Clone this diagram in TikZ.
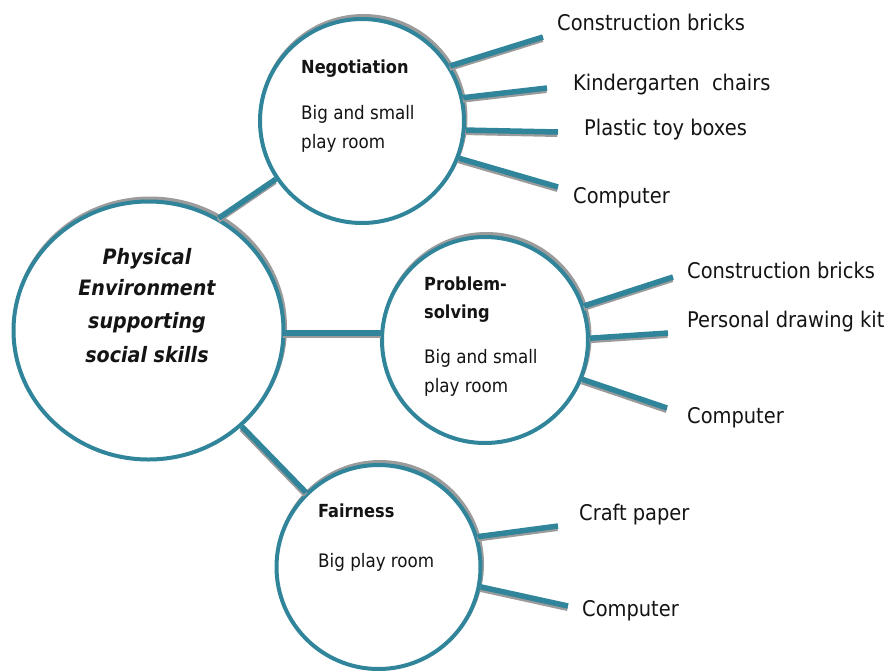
\documentclass[tikz,border=0pt]{standalone}
\usepackage{fontspec}
\setmainfont{DejaVu Sans Condensed}
\usetikzlibrary{shapes.geometric}
\definecolor{tealc}{RGB}{49,133,155}
\definecolor{shadc}{RGB}{155,155,155}
\definecolor{txtc}{RGB}{20,20,20}
\begin{document}
\begin{tikzpicture}[x=1pt,y=-1pt,
  bubble/.style={circle, draw=tealc, line width=4pt, fill=white, inner sep=0pt,
    preaction={draw=shadc, line width=4pt, transform canvas={shift={(1.5pt,3pt)}}}},
  link/.style={draw=tealc, line width=5.5pt,
    preaction={draw=shadc, line width=5pt, transform canvas={shift={(-0.5pt,-2.5pt)}}}},
  item/.style={anchor=base west, inner sep=0pt, text=txtc, font=\fontsize{21.6}{25}\selectfont},
  head/.style={anchor=base west, inner sep=0pt, text=txtc, font=\fontsize{18}{22}\selectfont\bfseries},
  sub/.style={anchor=base west, inner sep=0pt, text=txtc, font=\fontsize{18.6}{22}\selectfont},
  mainline/.style={anchor=base, inner sep=0pt, text=txtc, font=\fontsize{21.2}{24}\selectfont\bfseries\itshape}]
\useasboundingbox (0,0) rectangle (890,670);

% circles
\node[bubble, ellipse, minimum width=270pt, minimum height=258pt] (main) at (148.5,330.5) {};
\node[bubble, minimum size=204pt] (neg) at (362,121) {};
\node[bubble, minimum size=206pt] (ps) at (485,340) {};
\node[bubble, minimum size=204pt] (fair) at (378.5,567) {};

% main text
\node[mainline] (m1) at (147,264) {Physical};
\node[mainline] (m2) at (147,295) {Environment};
\node[mainline] (m3) at (147,328) {supporting};
\node[mainline] (m4) at (147,362) {social skills};

% circle texts
\node[head] (negh) at (301,73) {Negotiation};
\node[sub] (negs1) at (301,119) {Big and small};
\node[sub] (negs2) at (301,148) {play room};

\node[head] (psh1) at (424,290) {Problem-};
\node[head] (psh2) at (424,318) {solving};
\node[sub] (pss1) at (424,363) {Big and small};
\node[sub] (pss2) at (424,392) {play room};

\node[head] (fairh) at (318,517) {Fairness};
\node[sub] (fairs) at (318,567) {Big play room};

% item labels
\node[item] (n1) at (557,30) {Construction bricks};
\node[item] (n2) at (573,90) {Kindergarten\ \ chairs};
\node[item] (n3) at (584,135) {Plastic toy boxes};
\node[item] (n4) at (573,203) {Computer};
\node[item] (p1) at (687,278) {Construction bricks};
\node[item] (p2) at (687,327) {Personal drawing kit};
\node[item] (p3) at (687,423) {Computer};
\node[item] (f1) at (579,520) {Craft paper};
\node[item] (f2) at (582,616) {Computer};

% connector end coordinates
\coordinate (en1) at (543,37);
\coordinate (en2) at (547,88);
\coordinate (en3) at (558,132);
\coordinate (en4) at (558,187);
\coordinate (ep1) at (673,277);
\coordinate (ep2) at (668,333);
\coordinate (ep3) at (667,408);
\coordinate (ef1) at (558,526);
\coordinate (ef2) at (568,606);
\coordinate (mj) at (283,333);
\coordinate (pj) at (381,333);

% connectors
\path[link] (main.58) -- (neg.214);
\path[link] (mj) -- (pj);
\path[link] (main) -- (fair);

\path[link] (neg.32) -- (en1);
\path[link] (neg.13) -- (en2);
\path[link] (neg.-5) -- (en3);
\path[link] (neg.-21) -- (en4);

\path[link] (ps.19) -- (ep1);
\path[link] (ps.1) -- (ep2);
\path[link] (ps.-22) -- (ep3);

\path[link] (fair.17) -- (ef1);
\path[link] (fair.-11) -- (ef2);
\end{tikzpicture}
\end{document}
